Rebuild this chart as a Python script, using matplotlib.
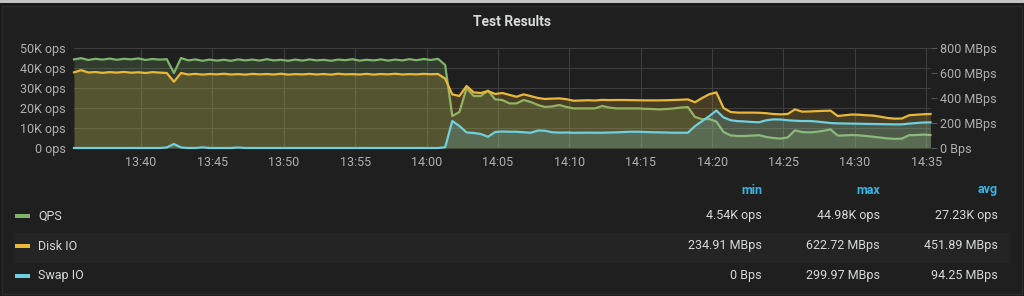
import matplotlib
matplotlib.use("Agg")
import matplotlib.pyplot as plt
import matplotlib.dates as mdates
from matplotlib.patches import Rectangle
from matplotlib.ticker import FuncFormatter, FixedLocator
import pandas as pd

# ---------------- data ----------------
start_time = "2016-01-01 13:35:18"
step = "30s"

qps_k = [
    44.3, 44.9, 44.0, 44.6, 44.2, 44.7, 44.1, 44.6, 44.3, 44.8, 44.0, 44.5, 44.2, 44.4,
    37.5, 44.98,
    43.8, 44.3, 43.6, 44.2, 43.7, 44.1, 43.6, 44.3, 43.8, 44.2, 43.7, 44.4, 43.8, 44.1,
    43.6, 44.2, 43.7, 44.3, 43.8, 44.1, 43.6, 44.2, 43.9, 44.4, 43.7, 44.1, 43.8, 44.3,
    43.7, 44.2, 43.8, 44.4, 43.9, 44.5, 44.0, 44.6,
    41.5, 16.0, 18.0, 30.0, 26.0, 26.0, 28.7, 24.3, 24.0, 22.3, 22.3, 24.0, 23.0, 21.5,
    20.5, 20.8, 21.5, 20.5, 19.8, 19.8, 19.8, 19.8, 21.0, 20.2, 19.8, 19.8, 19.8, 19.8,
    19.6, 19.5, 19.3, 19.5, 19.8, 20.2, 20.5,
    15.5, 14.4, 14.5, 13.2, 8.0, 6.3, 6.0, 6.0, 6.2, 6.4, 5.5, 5.0, 4.7, 5.3, 8.8, 8.0,
    7.8, 8.1, 8.6, 9.3, 6.2, 6.3, 6.5, 6.3, 6.0, 5.6, 5.2, 4.8, 4.54, 4.7, 6.4, 6.5,
    6.7, 6.5,
]

disk_mbps = [
    605, 622.72, 604, 608, 601, 607, 603, 609, 602, 606, 600, 607, 603, 600,
    530, 600,
    588, 593, 587, 592, 589, 594, 588, 591, 587, 593, 589, 592, 588, 594, 587, 591,
    589, 593, 588, 592, 587, 594, 589, 591, 588, 593, 587, 592, 589, 594, 588, 591,
    589, 593, 590, 592,
    555, 429, 416, 496, 445, 440, 456, 432, 440, 425, 410, 429, 415, 400, 392, 395,
    397, 390, 378, 380, 382, 380, 385, 383, 384, 384, 383, 382, 381, 381, 381, 382,
    384, 386, 389,
    366, 400, 430, 445, 320, 288, 283, 283, 283, 282, 278, 272, 269, 272, 309, 291,
    292, 295, 297, 299, 256, 262, 268, 266, 262, 259, 250, 240, 234.91, 236, 262, 266,
    270, 272,
]

swap_mbps = [
    0, 0, 0, 0, 0, 0, 0, 0, 0, 0, 0, 0, 0, 4, 32, 4, 0, 0, 5, 0, 0, 0, 0, 4,
    0, 0, 0, 0, 0, 0, 0, 0, 0, 0, 0, 0, 0, 0, 0, 0, 0, 0, 0, 0, 0, 0, 0, 0,
    0, 0, 0, 0, 6,
    216, 176, 125, 120, 112, 90, 128, 132, 130, 130, 126, 122, 140, 138, 126, 123,
    124, 122, 122, 123, 122, 122, 124, 125, 128, 130, 130, 128, 126, 125, 124, 122,
    122, 122,
    175, 215, 255, 299.97, 245, 222, 215, 212, 208, 206, 222, 229, 228, 222, 218, 216,
    216, 212, 206, 200, 197, 196, 195, 194, 193, 192, 191, 190, 189, 189, 195, 200,
    204, 205,
]

series_names = ["QPS", "Disk IO", "Swap IO"]
stat_headers = ["min", "max", "avg"]
stat_values = [
    ["4.54K ops", "44.98K ops", "27.23K ops"],
    ["234.91 MBps", "622.72 MBps", "451.89 MBps"],
    ["0 Bps", "299.97 MBps", "94.25 MBps"],
]
left_ticks = [0, 10, 20, 30, 40, 50]
right_ticks = [0, 200, 400, 600, 800]
title = "Test Results"

# ---------------- style ----------------
W, H = 1024, 296
BG = "#1f1f1f"
GREEN, YELLOW, CYAN = "#7eb26d", "#eab839", "#6ed0e0"
colors = [GREEN, YELLOW, CYAN]
TXT = "#d8d9da"
TICK = "#b0b0b0"
GRID = "#3e3e3e"
FONT = "Roboto"
plt.rcParams["font.family"] = [FONT, "DejaVu Sans"]

times = pd.date_range(start_time, periods=len(qps_k), freq=step)

fig = plt.figure(figsize=(W / 100, H / 100), dpi=100, facecolor="#1a1a1a")

def fx(px):
    return px / W

def fy(py):
    return 1 - py / H

# panel background and top strip
fig.patches.append(Rectangle((fx(2), fy(294)), fx(1020), (292 - 4) / H,
                             transform=fig.transFigure, facecolor=BG,
                             edgecolor="#2b2b2b", linewidth=1, zorder=-10))
fig.patches.append(Rectangle((0, fy(3)), 1, 3 / H, transform=fig.transFigure,
                             facecolor="#c4c4c4", edgecolor="none", zorder=-10))
# highlighted legend row
fig.patches.append(Rectangle((fx(14), fy(263)), fx(1010 - 14), 30 / H,
                             transform=fig.transFigure, facecolor="#242424",
                             edgecolor="none", zorder=-9))

ax = fig.add_axes([fx(74), fy(148), fx(930.5 - 74), (148 - 48) / H])
ax.set_facecolor("none")
ax2 = ax.twinx()
ax2.set_facecolor("none")

ALPHA = 0.2
LW = 1.6
ax.fill_between(times, qps_k, 0, color=GREEN, alpha=ALPHA, linewidth=0)
ax.plot(times, qps_k, color=GREEN, linewidth=LW, clip_on=False)
ax2.fill_between(times, disk_mbps, 0, color=YELLOW, alpha=ALPHA, linewidth=0)
ax2.plot(times, disk_mbps, color=YELLOW, linewidth=LW, clip_on=False)
ax2.fill_between(times, swap_mbps, 0, color=CYAN, alpha=ALPHA, linewidth=0)
ax2.plot(times, swap_mbps, color=CYAN, linewidth=LW, clip_on=False)

ax.set_xlim(times[0], times[-1])
ax.set_ylim(0, 50)
ax2.set_ylim(0, 800)

ax.yaxis.set_major_locator(FixedLocator(left_ticks))
ax.yaxis.set_major_formatter(FuncFormatter(lambda v, p: f"{int(v)}K ops" if v else "0 ops"))
ax2.yaxis.set_major_locator(FixedLocator(right_ticks))
ax2.yaxis.set_major_formatter(FuncFormatter(lambda v, p: f"{int(v)} MBps" if v else "0 Bps"))

ax.xaxis.set_major_locator(mdates.MinuteLocator(byminute=range(0, 60, 5)))
ax.xaxis.set_major_formatter(mdates.DateFormatter("%H:%M"))

for a in (ax, ax2):
    for s in a.spines.values():
        s.set_visible(False)

ax.grid(True, color=GRID, linewidth=0.8)
ax.set_axisbelow(True)
ax.tick_params(axis="both", colors=TICK, labelsize=9, length=0, pad=6)
ax.tick_params(axis="y", pad=6)
ax2.tick_params(axis="y", colors="#555555", labelcolor=TICK, labelsize=9,
                length=4, width=0.8, pad=3)

fig.text(0.5, fy(22), title, ha="center", va="center", color=TXT,
         fontsize=10, fontweight="bold")

# legend table
header_y = 190
row_ys = [216, 246, 276]
col_right = [762, 880, 998]
for x, h in zip(col_right, stat_headers):
    fig.text(fx(x), fy(header_y), h, ha="right", va="center", color="#33b5e5",
             fontsize=9, fontweight="bold")
for name, col, y, vals in zip(series_names, colors, row_ys, stat_values):
    fig.patches.append(Rectangle((fx(15), fy(y + 2)), fx(15), 4 / H,
                                 transform=fig.transFigure, facecolor=col,
                                 edgecolor="none"))
    fig.text(fx(38), fy(y), name, ha="left", va="center", color=TXT, fontsize=9)
    for x, v in zip(col_right, vals):
        fig.text(fx(x), fy(y), v, ha="right", va="center", color=TXT, fontsize=9)

fig.savefig("out.png", dpi=100, facecolor=fig.get_facecolor())
